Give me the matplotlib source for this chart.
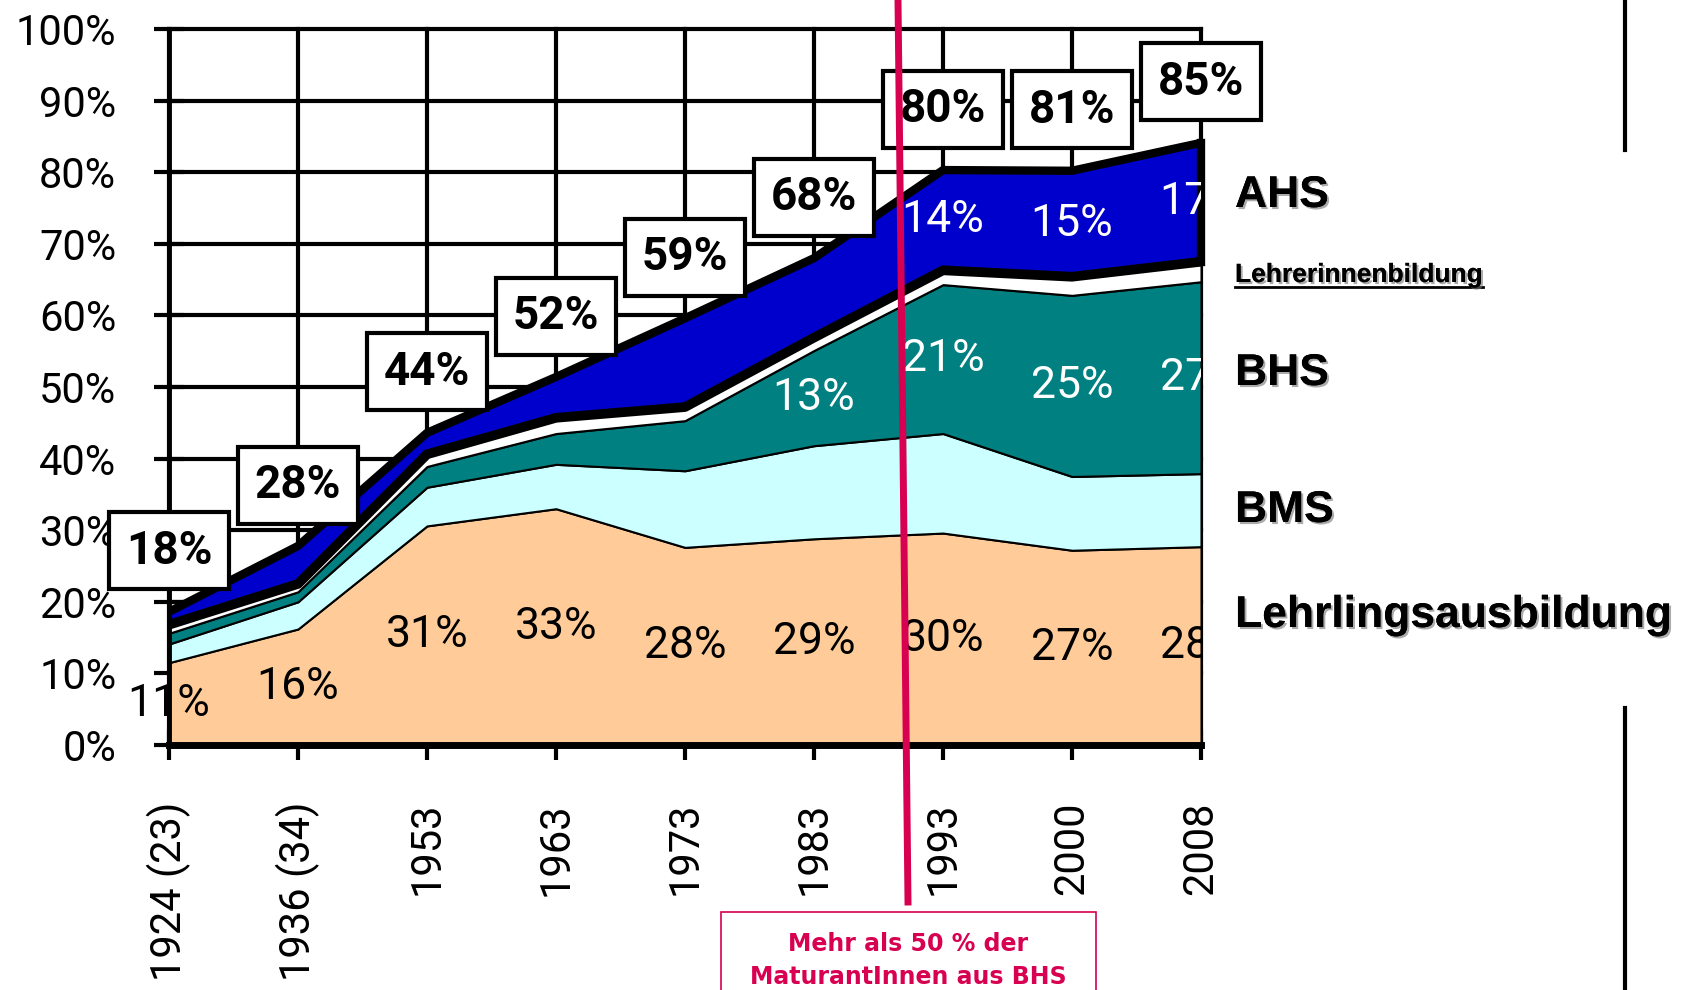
import matplotlib
matplotlib.use('Agg')
import matplotlib.pyplot as plt
import matplotlib.patheffects as pe
from matplotlib.lines import Line2D
from matplotlib.patches import Rectangle
import numpy as np

# shares of an age cohort with a school leaving qualification, in percent
years = ['1924 (23)', '1936 (34)', '1953', '1963', '1973', '1983', '1993', '2000', '2008']
lehrling = [11.5, 16.2, 30.6, 33.0, 27.6, 28.8, 29.6, 27.2, 27.7]
bms = [2.6, 3.8, 5.4, 6.2, 10.7, 13.0, 13.9, 10.3, 10.2]
bhs = [1.5, 1.4, 2.9, 4.3, 7.0, 13.3, 20.8, 25.3, 26.8]
lehrer = [1.2, 1.1, 1.7, 2.2, 1.9, 1.8, 2.0, 2.6, 2.8]
ahs = [1.8, 5.3, 3.0, 5.7, 12.4, 11.1, 14.0, 14.8, 16.6]

total_labels = [18, 28, 44, 52, 59, 68, 80, 81, 85]
lehrling_labels = [11, 16, 31, 33, 28, 29, 30, 27, 28]
bhs_labels = [None, None, None, None, None, 13, 21, 25, 27]
ahs_labels = [None, None, None, None, None, None, 14, 15, 17]

series_names = ['AHS', 'Lehrerinnenbildung', 'BHS', 'BMS', 'Lehrlingsausbildung']
colors = ['#ffcc99', '#ccffff', '#008080', 'white', '#0000cc']
red = '#d80050'

W, H = 1689, 990
fig = plt.figure(figsize=(W / 100, H / 100), dpi=100)
ax = fig.add_axes([169 / W, 1 - 745 / H, (1201 - 169) / W, (745 - 29) / H])

x = np.arange(len(years))
layers = np.vstack([lehrling, bms, bhs, lehrer, ahs])
cum = np.cumsum(layers, axis=0)

ax.stackplot(x, layers, colors=colors, edgecolor='black', linewidth=1.5, zorder=2)
ax.plot(x, cum[3], color='black', lw=7, zorder=3)
ax.plot(x, cum[4], color='black', lw=6, zorder=3)
ax.plot([x[-1], x[-1]], [cum[3][-1], cum[4][-1]], color='black', lw=6,
        zorder=3, clip_on=False, solid_capstyle='projecting')

ax.set_xlim(0, len(years) - 1)
ax.set_ylim(0, 100)
ax.set_xticks(x)
ax.set_xticklabels(years)
ax.set_yticks(range(0, 101, 10))
ax.set_yticklabels(['%d%%' % v for v in range(0, 101, 10)])
ax.set_axisbelow(True)
ax.grid(True, color='black', lw=3)
for gl in ax.get_xgridlines() + ax.get_ygridlines():
    gl.set_clip_on(False)

for side in ['top', 'right']:
    ax.spines[side].set_visible(False)
ax.spines['left'].set_linewidth(3.5)
ax.spines['bottom'].set_linewidth(5)

ax.tick_params(axis='both', direction='inout', length=22, width=3, color='black')
ax.tick_params(axis='y', pad=27, labelsize=30)
ax.tick_params(axis='x', pad=30, labelsize=30, labelrotation=90)
for lab in ax.get_xticklabels() + ax.get_yticklabels():
    lab.set_fontfamily('Roboto')

clip = Rectangle((-0.3, -0.3), 1.3, 1.6, transform=ax.transAxes)

def seg_label(i, y, v, col):
    t = ax.text(i, y, '%d%%' % v, ha='center', va='center', fontsize=32,
                family='Roboto', color=col, zorder=4, clip_on=True)
    t.set_clip_path(clip)

for i in range(len(years)):
    seg_label(i, lehrling[i] / 2, lehrling_labels[i], 'black')
    if bhs_labels[i] is not None:
        seg_label(i, cum[1][i] + bhs[i] / 2, bhs_labels[i], 'white')
    if ahs_labels[i] is not None:
        seg_label(i, cum[3][i] + ahs[i] / 2, ahs_labels[i], 'white')
    ax.text(i, cum[4][i] + 8.5, '%d%%' % total_labels[i], ha='center', va='center',
            fontsize=33, fontweight='bold', family='Roboto', zorder=5,
            bbox=dict(boxstyle='square,pad=0.36', fc='white', ec='black', lw=3))

# series names on the right
shadow = [pe.withSimplePatchShadow(offset=(1.5, -1.5), shadow_rgbFace='0.45', alpha=0.6),
          pe.Normal()]
name_base = [207, 282, 385, 522, 627]
for name, yb in zip(series_names, name_base):
    size = 19 if name == 'Lehrerinnenbildung' else 32
    t = fig.text(1235 / W, 1 - yb / H, name, fontsize=size, fontweight='bold',
                 family='Liberation Sans', va='baseline', ha='left', path_effects=shadow)
    if name == 'Lehrerinnenbildung':
        under = t

fig.canvas.draw()
bb = under.get_window_extent()
fig.add_artist(Line2D([bb.x0 / W, bb.x1 / W], [1 - 287 / H, 1 - 287 / H],
                      color='black', lw=2))

# right-hand black rules
fig.add_artist(Line2D([1625 / W, 1625 / W], [1.0, 1 - 150 / H], color='black', lw=3))
fig.add_artist(Line2D([1625 / W, 1625 / W], [1 - 708 / H, 0.0], color='black', lw=3))

# red marker line and note box
fig.add_artist(Line2D([898 / W, 908 / W], [1.0, 1 - 902 / H], color=red, lw=5))
fig.add_artist(Rectangle((721 / W, -0.02), 375 / W, 0.02 + 1 - 912 / H,
                         transform=fig.transFigure, fc='white', ec=red, lw=1.2))
fig.text(908 / W, 1 - 951 / H, 'Mehr als 50 % der', color=red, fontsize=17,
         fontweight='bold', ha='center', va='baseline')
fig.text(908 / W, 1 - 984 / H, 'MaturantInnen aus BHS', color=red, fontsize=17,
         fontweight='bold', ha='center', va='baseline')

fig.savefig('out.png', dpi=100)
